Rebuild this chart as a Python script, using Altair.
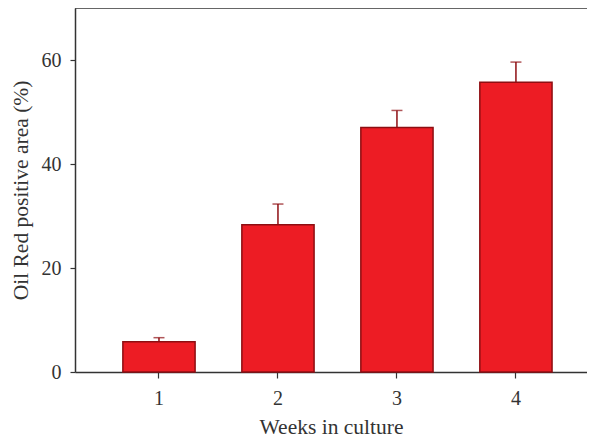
import altair as alt
import pandas as pd

weeks = ["1", "2", "3", "4"]
means = [5.8, 28.3, 47.0, 55.7]
errors = [0.8, 4.0, 3.3, 3.9]

df = pd.DataFrame({
    "week": weeks,
    "mean": means,
    "upper": [m + e for m, e in zip(means, errors)],
})

FONT = "Liberation Serif"
TEXT = "#333333"
DARK = "#8E0E12"

xenc = alt.X(
    "week:N",
    title="Weeks in culture",
    scale=alt.Scale(paddingInner=0.393, paddingOuter=0.348, align=0.578),
    axis=alt.Axis(labelAngle=0, tickSize=6, labelPadding=10, titlePadding=8),
)
yenc = alt.Y(
    "mean:Q",
    title="Oil Red positive area (%)",
    scale=alt.Scale(domain=[0, 70], nice=False),
    axis=alt.Axis(values=[0, 20, 40, 60], tickSize=5, labelPadding=9, titlePadding=9),
)

base = alt.Chart(df)

bars = base.mark_bar(fill="#ED1C24", stroke=DARK, strokeWidth=1.5).encode(x=xenc, y=yenc)

err = base.mark_rule(color=DARK, strokeWidth=1.5).encode(
    x="week:N", y="mean:Q", y2="upper:Q"
)
caps = base.mark_tick(color=DARK, size=11, thickness=1.5).encode(
    x="week:N", y="upper:Q"
)
top = alt.Chart(pd.DataFrame({"v": [70]})).mark_rule(color=TEXT, strokeWidth=1.5).encode(
    y=alt.Y("v:Q")
)

chart = alt.layer(bars, err, caps, top).properties(
    width=512,
    height=364,
    autosize=alt.AutoSizeParams(type="none"),
    padding={"left": 67, "top": 0, "right": 0, "bottom": 66},
).configure_view(stroke=None).configure_axis(
    grid=False,
    domainColor=TEXT,
    domainWidth=1.5,
    tickColor=TEXT,
    tickWidth=1.2,
    labelFont=FONT,
    labelFontSize=20,
    labelColor=TEXT,
    titleFont=FONT,
    titleFontSize=21.5,
    titleFontWeight="normal",
    titleColor=TEXT,
)

chart.save("out.html", embed_options={"renderer": "svg", "actions": False})
